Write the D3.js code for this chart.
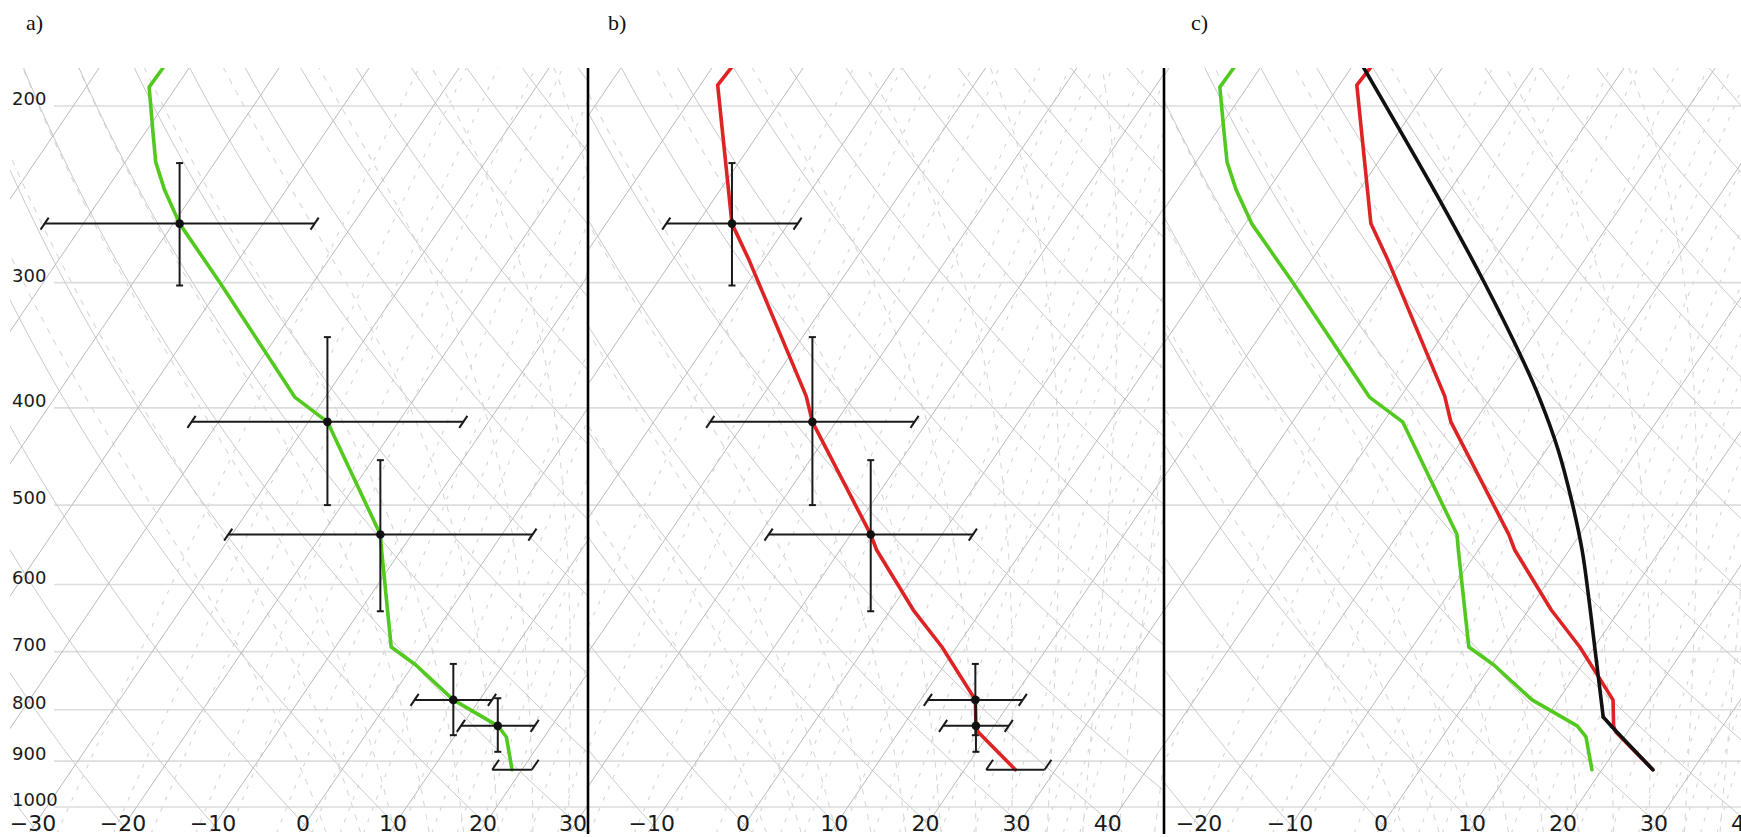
<!DOCTYPE html>
<html>
<head>
<meta charset="utf-8">
<script src="https://cdn.jsdelivr.net/npm/d3@7"></script>
<style>
  html, body { margin: 0; padding: 0; background: #fff; }
  svg { display: block; }
</style>
</head>
<body>
<svg id="chart" width="1741" height="837"></svg>
<script>
// ---- Axis ticks -------------------------------------------------------
const pressureTicks = [200, 300, 400, 500, 600, 700, 800, 900, 1000];
const tempTicksA = [-30, -20, -10, 0, 10, 20, 30];
const tempTicksB = [-10, 0, 10, 20, 30, 40];
const tempTicksC = [-20, -10, 0, 10, 20, 30, 40];
const panelLetters = ["a)", "b)", "c)"];

// ---- Background reference lines --------------------------------------
const isothermTemps = d3.range(-150, 70, 10);          // °C
const dryThetas = d3.range(220, 500, 10);              // K
const moistStartTemps = d3.range(0, 46, 4);            // °C at 1000 hPa
const mixingRatios = [0.4, 0.7, 1, 1.5, 2, 3, 4, 5, 6, 8, 10, 12, 14, 16, 20, 24, 28, 32, 36, 40];

// ---- Dewpoint profile (hPa, °C) --------------------------------------
const dewP = [183, 191.5, 212.8, 227.5, 242.6, 262, 300.3, 390.2, 413, 535, 554.3, 692.6, 721.8, 782, 830, 851.5, 918];
const dewT = [-72.9, -73.0, -69.1, -66.6, -63.5, -59.3, -50.3, -33.4, -27.9, -13.5, -12.2, -3.8, 0.3, 7.1, 14.0, 15.8, 18.9];

// ---- Temperature profile (hPa, °C) -----------------------------------
const tmpP = [183, 190.6, 262, 284.9, 389.3, 413, 535, 554.3, 636.2, 692.6, 782, 830, 841.8, 918];
const tmpT = [-57.9, -58.1, -46.2, -41.6, -25.2, -22.6, -7.8, -6.0, 2.5, 8.4, 16.0, 18.0, 18.7, 25.6];

// ---- Lifted parcel (hPa, °C) -----------------------------------------
const parP = [183, 248.2, 299.6, 355.9, 392.9, 440.6, 494.2, 554.3, 621.8, 697.4, 813.3, 834, 918];
const parT = [-58.7, -40.4, -29.4, -19.7, -14.4, -8.7, -3.5, 1.4, 5.9, 10.3, 16.2, 18.1, 25.6];
const parLclIndex = 10;

// ---- Uncertainty at selected levels -----------------------------------
const errP = [262, 413, 535, 782, 830];
const errPTop = [228, 340, 451, 720, 779];
const errPBot = [302, 500, 638, 848, 881];
const errDewT = [-59.3, -27.9, -13.5, 7.1, 14.0];
const errDewHalf = [15.0, 15.1, 16.9, 4.3, 4.1];
const errTmpT = [-46.2, -22.6, -7.8, 16.0, 18.0];
const errTmpHalf = [7.2, 11.2, 11.2, 5.2, 3.6];
const sfcP = 918;
const sfcDewT = 18.9, sfcDewHalf = 2.2;
const sfcTmpT = 25.6, sfcTmpHalf = 3.2;

// ---- Layout ----------------------------------------------------------
const TOP = 68, BOTTOM = 832;
const SKEW = 0.68;      // horizontal shift per pixel of height
const Y_REF = 827;      // height at which the temperature scale is read

const y = d3.scaleLog().domain([1000, 200]).range([807, 106]);

const panels = [
  { left: 10,   right: 588,  t0: 303,  per: 9.0,  ticks: tempTicksA, letterX: 26 },
  { left: 588,  right: 1164, t0: 743,  per: 9.12, ticks: tempTicksB, letterX: 608 },
  { left: 1164, right: 1741, t0: 1381, per: 9.1,  ticks: tempTicksC, letterX: 1191 }
];
panels.forEach(pn => {
  pn.x = d3.scaleLinear().domain([0, 10]).range([pn.t0, pn.t0 + 10 * pn.per]);
});

const GREEN = "#52c91e", RED = "#dd2323", BLACK = "#111";

const svg = d3.select("#chart");
const defs = svg.append("defs");

// ---- Thermodynamic helpers -------------------------------------------
const Rd = 287.04, Cp = 1005.7, Lv = 2.501e6, EPS = 0.622;
const esat = Tc => 6.112 * Math.exp(17.67 * Tc / (Tc + 243.5));
function moistLapse(p, TK) {
  const es = esat(TK - 273.15);
  const rs = EPS * es / (p - es);
  return (Rd * TK + Lv * rs) / (p * (Cp + Lv * Lv * rs * EPS / (Rd * TK * TK)));
}
function moistCurve(T0) {
  const up = [], down = [];
  let TK = T0 + 273.15;
  for (let p = 1000; p >= 150; p -= 2) { up.push({ p, T: TK - 273.15 }); TK -= moistLapse(p, TK) * 2; }
  TK = T0 + 273.15;
  for (let p = 1000; p <= 1090; p += 2) { TK += moistLapse(p, TK) * 2; down.push({ p: p + 2, T: TK - 273.15 }); }
  return down.reverse().concat(up);
}
function dryCurve(theta) {
  return d3.range(1090, 149, -5).map(p => ({ p, T: theta * Math.pow(p / 1000, 0.2857) - 273.15 }));
}
function mixingCurve(w) {
  return d3.range(1090, 149, -10).map(p => {
    const e = (w / 1000) * p / (EPS + w / 1000);
    const l = Math.log(e / 6.112);
    return { p, T: 243.5 * l / (17.67 - l) };
  });
}

// ---- Draw each panel --------------------------------------------------
panels.forEach((pn, i) => {
  const X = (T, p) => pn.x(T) + SKEW * (Y_REF - y(p));
  const clipId = "clip" + i;
  defs.append("clipPath").attr("id", clipId)
    .append("rect").attr("x", pn.left).attr("y", TOP)
    .attr("width", pn.right - pn.left).attr("height", BOTTOM - TOP);

  const g = svg.append("g").attr("clip-path", `url(#${clipId})`);
  const line = d3.line().x(d => X(d.T, d.p)).y(d => y(d.p));

  // isobars
  g.append("g").selectAll("line").data(pressureTicks).join("line")
    .attr("x1", i === 0 ? 54 : pn.left).attr("x2", pn.right)
    .attr("y1", d => y(d)).attr("y2", d => y(d))
    .attr("stroke", "#dddddd").attr("stroke-width", 1.6);

  // mixing ratio lines
  g.append("g").selectAll("path").data(mixingRatios).join("path")
    .attr("d", w => line(mixingCurve(w)))
    .attr("fill", "none").attr("stroke", "#d6d6d6").attr("stroke-width", 1.1)
    .attr("stroke-dasharray", "4,8");

  // saturated adiabats
  g.append("g").selectAll("path").data(moistStartTemps).join("path")
    .attr("d", t => line(moistCurve(t)))
    .attr("fill", "none").attr("stroke", "#d8d8d8").attr("stroke-width", 1.1)
    .attr("stroke-dasharray", "6,7");

  // dry adiabats
  g.append("g").selectAll("path").data(dryThetas).join("path")
    .attr("d", th => line(dryCurve(th)))
    .attr("fill", "none").attr("stroke", "#c9c9c9").attr("stroke-width", 1);

  // isotherms
  g.append("g").selectAll("line").data(isothermTemps).join("line")
    .attr("x1", t => pn.x(t) + SKEW * (Y_REF - BOTTOM)).attr("y1", BOTTOM)
    .attr("x2", t => pn.x(t) + SKEW * (Y_REF - TOP)).attr("y2", TOP)
    .attr("stroke", "#bababa").attr("stroke-width", 1);

  // profiles
  const dew = dewP.map((p, k) => ({ p, T: dewT[k] }));
  const tmp = tmpP.map((p, k) => ({ p, T: tmpT[k] }));
  const par = parP.map((p, k) => ({ p, T: parT[k] }));

  const drawProfile = (data, color, curve) => g.append("path")
    .attr("d", line.curve(curve || d3.curveLinear)(data))
    .attr("fill", "none").attr("stroke", color).attr("stroke-width", 3.6)
    .attr("stroke-linejoin", "round").attr("stroke-linecap", "round");

  // error bars with dots
  const drawErrors = (temps, halves, sfcT, sfcHalf) => {
    const eg = g.append("g").attr("stroke", "#1a1a1a").attr("stroke-width", 2).attr("fill", "none");
    errP.forEach((p, k) => {
      const T = temps[k], h = halves[k], yy = y(p), xc = X(T, p);
      eg.append("line").attr("x1", X(T - h, p)).attr("x2", X(T + h, p)).attr("y1", yy).attr("y2", yy);
      [T - h, T + h].forEach(tc => {
        eg.append("line")
          .attr("x1", pn.x(tc) + SKEW * (Y_REF - (yy + 6))).attr("y1", yy + 6)
          .attr("x2", pn.x(tc) + SKEW * (Y_REF - (yy - 6))).attr("y2", yy - 6);
      });
      const y1 = y(errPTop[k]), y2 = y(errPBot[k]);
      eg.append("line").attr("x1", xc).attr("x2", xc).attr("y1", y1).attr("y2", y2);
      eg.append("line").attr("x1", xc - 3.5).attr("x2", xc + 3.5).attr("y1", y1).attr("y2", y1);
      eg.append("line").attr("x1", xc - 3.5).attr("x2", xc + 3.5).attr("y1", y2).attr("y2", y2);
    });
    const ys = y(sfcP);
    eg.append("line").attr("x1", X(sfcT - sfcHalf, sfcP)).attr("x2", X(sfcT + sfcHalf, sfcP))
      .attr("y1", ys).attr("y2", ys);
    [sfcT - sfcHalf, sfcT + sfcHalf].forEach(tc => {
      eg.append("line")
        .attr("x1", pn.x(tc) + SKEW * (Y_REF - ys)).attr("y1", ys)
        .attr("x2", pn.x(tc) + SKEW * (Y_REF - (ys - 10))).attr("y2", ys - 10);
    });
    g.append("g").selectAll("circle").data(errP).join("circle")
      .attr("cx", (p, k) => X(temps[k], p)).attr("cy", p => y(p))
      .attr("r", 4.3).attr("fill", "#111");
  };

  if (i === 0) {
    drawProfile(dew, GREEN);
    drawErrors(errDewT, errDewHalf, sfcDewT, sfcDewHalf);
  } else if (i === 1) {
    drawProfile(tmp, RED);
    drawErrors(errTmpT, errTmpHalf, sfcTmpT, sfcTmpHalf);
  } else {
    drawProfile(dew, GREEN);
    drawProfile(tmp, RED);
    drawProfile(par.slice(0, parLclIndex + 1), BLACK, d3.curveCatmullRom.alpha(0.5));
    drawProfile(par.slice(parLclIndex), BLACK);
  }

  // temperature labels
  svg.append("g").selectAll("text").data(pn.ticks).join("text")
    .attr("x", t => pn.x(t)).attr("y", 831)
    .attr("text-anchor", "middle")
    .attr("font-family", "DejaVu Sans, sans-serif").attr("font-size", 22)
    .attr("fill", "#1a1a1a")
    .text(t => (t < 0 ? "\u2212" + Math.abs(t) : String(t)));

  // panel letter
  svg.append("text").attr("x", pn.letterX).attr("y", 30)
    .attr("font-family", "Liberation Serif, Times New Roman, serif").attr("font-size", 22)
    .attr("fill", "#111").text(panelLetters[i]);
});

// pressure labels
svg.append("g").selectAll("text").data(pressureTicks).join("text")
  .attr("x", 12).attr("y", p => y(p) - 1)
  .attr("font-family", "DejaVu Sans, sans-serif").attr("font-size", 18)
  .attr("fill", "#1a1a1a").text(p => p);

// panel dividers
[588, 1164].forEach(xd => {
  svg.append("line").attr("x1", xd).attr("x2", xd).attr("y1", TOP).attr("y2", 834)
    .attr("stroke", "#000").attr("stroke-width", 2.6);
});
</script>
</body>
</html>
